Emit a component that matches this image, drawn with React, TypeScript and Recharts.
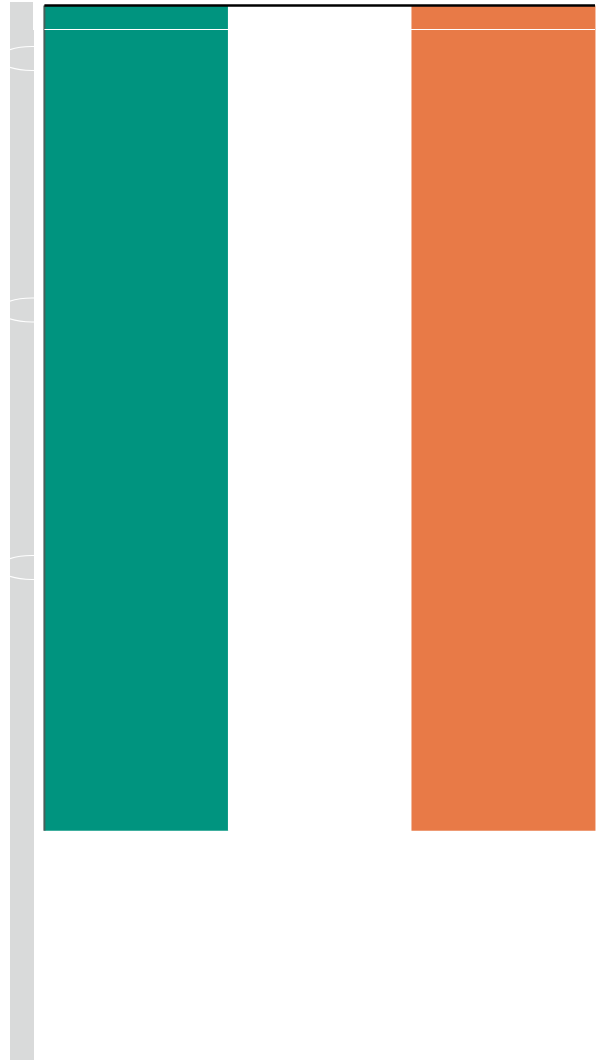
import { BarChart, Bar, Cell, XAxis, YAxis, ReferenceLine } from "recharts";

const categories = ["A", "B", "C"];
const values = [100, 100, 100];
const barColors = ["#00947f", "#ffffff", "#e87a47"];
const GRID_VALUE = 2.91;

const data = categories.map((name, i) => ({ name, value: values[i] }));

// grey band on the left, with the white curved marks on it
function SideBand() {
  return (
    <svg
      width={24}
      height={1058}
      style={{ position: "absolute", left: 10, top: 2, background: "#d9dada" }}
    >
      <ellipse cx={22} cy={56.5} rx={33} ry={12} fill="none" stroke="#fff" strokeWidth={1.2} />
      <ellipse cx={22} cy={308} rx={33} ry={12} fill="none" stroke="#fff" strokeWidth={1.2} />
      <ellipse cx={22} cy={565.5} rx={33} ry={12} fill="none" stroke="#fff" strokeWidth={1.2} />
      <rect x={23} y={0} width={1} height={28} fill="#fff" />
    </svg>
  );
}

export default function App() {
  return (
    <div style={{ position: "absolute", left: 0, top: 0, width: 599, height: 1060 }}>
      <SideBand />
      <div style={{ position: "absolute", left: 0, top: 0 }}>
        <BarChart
          width={599}
          height={1060}
          data={data}
          barCategoryGap={0}
          margin={{ top: 5.5, right: 4, left: 44.4, bottom: 229.3 }}
        >
          <XAxis dataKey="name" orientation="top" height={0} tick={false} tickLine={false} axisLine={false} />
          <YAxis reversed width={0} domain={[0, 100]} tick={false} tickLine={false} axisLine={false} />
          <Bar dataKey="value" isAnimationActive={false}>
            {data.map((d, i) => (
              <Cell key={d.name} fill={barColors[i]} />
            ))}
          </Bar>
          {/* axis lines as reference lines so they stay above the bars */}
          <ReferenceLine x="A" position="start" stroke="#46605a" strokeWidth={2} />
          <ReferenceLine y={0} stroke="#000" strokeWidth={2.6} />
          <ReferenceLine y={GRID_VALUE} stroke="#fff" strokeWidth={1.2} />
        </BarChart>
      </div>
    </div>
  );
}
